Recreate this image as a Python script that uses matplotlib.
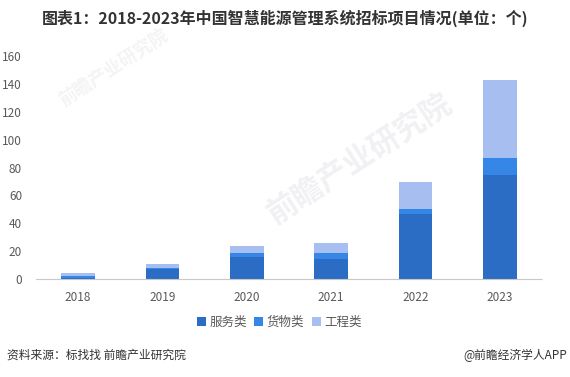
import numpy as np
import matplotlib.pyplot as plt

plt.rcParams['font.family'] = ['Noto Sans CJK SC', 'DejaVu Sans']

# data
years = ['2018', '2019', '2020', '2021', '2022', '2023']
service = [1, 7, 16, 14, 47, 75]
goods = [1, 1, 3, 5, 3, 12]
engineering = [2, 3, 5, 7, 20, 56]
series_names = ['服务类', '货物类', '工程类']
colors = ['#2B6CC4', '#3586E6', '#A7BEF0']

fig = plt.figure(figsize=(5.7, 3.77), dpi=100)
ax = fig.add_axes([0.063, 0.26, 0.888, 0.591])

x = np.arange(len(years))
w = 0.4
bottom = np.zeros(len(years))
for vals, name, c in zip([service, goods, engineering], series_names, colors):
    ax.bar(x, vals, w, bottom=bottom, color=c, label=name, zorder=2)
    bottom += np.array(vals)

ax.set_xlim(-0.5, len(years) - 0.5)
ax.set_ylim(0, 160)
ax.set_yticks(range(0, 161, 20))
ax.set_xticks(x)
ax.set_xticklabels(years)
for s in ['top', 'right', 'left']:
    ax.spines[s].set_visible(False)
ax.spines['bottom'].set_color('#C8C8C8')
ax.spines['bottom'].set_linestyle((0, (1, 1)))
ax.tick_params(axis='both', length=0, colors='#595959', labelsize=8.5)
ax.tick_params(axis='x', pad=9)
ax.tick_params(axis='y', pad=10)

# faint watermark
fig.text(0.63, 0.58, '前瞻产业研究院', fontsize=22, color='#F1F1F4', rotation=33,
         ha='center', va='center', fontweight='bold', zorder=0)
fig.text(0.2, 0.82, '前瞻产业研究院', fontsize=13, color='#F4F4F6', rotation=33,
         ha='center', va='center', fontweight='bold', zorder=0)

leg = fig.legend(loc='center', bbox_to_anchor=(0.49, 0.145), ncol=3, frameon=False,
                 fontsize=9, handlelength=0.7, handleheight=0.7, handletextpad=0.3,
                 columnspacing=0.6)
for t in leg.get_texts():
    t.set_color('#595959')

fig.text(0.5, 0.952, '图表1：2018-2023年中国智慧能源管理系统招标项目情况(单位：个)',
         ha='center', va='center', fontsize=11.5, fontweight='bold', color='#333333')
fig.text(0.012, 0.058, '资料来源：标找找 前瞻产业研究院', ha='left', va='center',
         fontsize=8.5, color='#333333')
fig.text(0.995, 0.058, '@前瞻经济学人APP', ha='right', va='center',
         fontsize=8.5, color='#333333')

fig.savefig('out.png', dpi=100)
